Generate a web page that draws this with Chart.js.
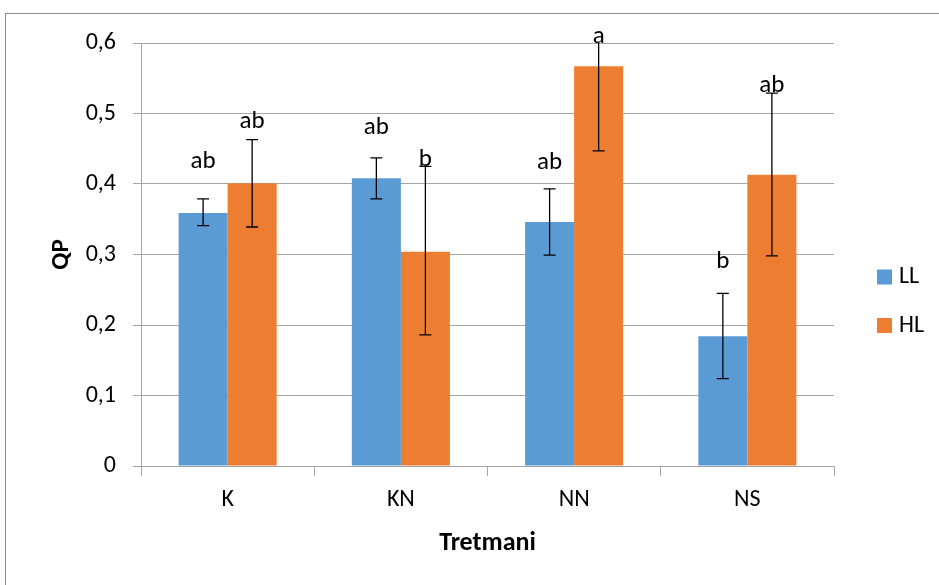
<!DOCTYPE html>
<html>
<head>
<meta charset="utf-8">
<script src="https://cdn.jsdelivr.net/npm/chart.js@4"></script>
<style>
  body { margin: 0; background: #fff; }
  #wrap { position: relative; width: 939px; height: 585px; overflow: hidden; }
  #frame { position: absolute; left: 5px; top: 13px; width: 1000px; height: 1000px;
           border: 1.5px solid #8c8c8c; pointer-events: none; }
</style>
</head>
<body>
<div id="wrap">
  <canvas id="c" width="939" height="585"></canvas>
  <div id="frame"></div>
</div>
<script>
const categories = ["K", "KN", "NN", "NS"];
const yTicks = [0, 0.1, 0.2, 0.3, 0.4, 0.5, 0.6];

const llValues = [0.359, 0.408, 0.346, 0.184];
const hlValues = [0.401, 0.304, 0.567, 0.413];

// error bar ends
const llLow = [0.341, 0.379, 0.299, 0.124];
const llHigh = [0.379, 0.437, 0.393, 0.245];
const hlLow = [0.339, 0.186, 0.447, 0.298];
const hlHigh = [0.463, 0.425, 0.687, 0.529];

// significance letters and the QP level they sit at
const llLetters = ["ab", "ab", "ab", "b"];
const hlLetters = ["ab", "b", "a", "ab"];
const llLetterAt = [0.432, 0.48, 0.43, 0.29];
const hlLetterAt = [0.488, 0.434, 0.609, 0.54];

const FONT = "Carlito, 'Open Sans', sans-serif";
const GRID = "#a6a6a6";

const errorBars = {
  id: "errorBars",
  afterDatasetsDraw(chart) {
    const { ctx, chartArea } = chart;
    const y = chart.scales.y;
    ctx.save();
    chart.data.datasets.forEach((ds, di) => {
      const meta = chart.getDatasetMeta(di);
      meta.data.forEach((bar, i) => {
        const x = bar.x;
        let top = y.getPixelForValue(ds.errHigh[i]);
        const bot = y.getPixelForValue(ds.errLow[i]);
        const clipped = top < chartArea.top;
        if (clipped) top = chartArea.top;
        ctx.strokeStyle = "#000";
        ctx.lineWidth = 1.3;
        ctx.beginPath();
        ctx.moveTo(x, top); ctx.lineTo(x, bot);
        if (!clipped) { ctx.moveTo(x - 6, top); ctx.lineTo(x + 6, top); }
        ctx.moveTo(x - 6, bot); ctx.lineTo(x + 6, bot);
        ctx.stroke();

        ctx.fillStyle = "#000";
        ctx.font = "25px " + FONT;
        ctx.textAlign = "center";
        ctx.textBaseline = "middle";
        ctx.fillText(ds.letters[i], x, y.getPixelForValue(ds.letterAt[i]));
      });
    });
    ctx.restore();
  }
};

const sideLegend = {
  id: "sideLegend",
  afterDraw(chart) {
    const { ctx } = chart;
    ctx.save();
    chart.data.datasets.forEach((ds, i) => {
      const cy = 277 + i * 48.5;
      ctx.fillStyle = ds.backgroundColor;
      ctx.fillRect(877, cy - 7.5, 15, 15);
      ctx.fillStyle = "#000";
      ctx.font = "24px " + FONT;
      ctx.textAlign = "left";
      ctx.textBaseline = "middle";
      ctx.fillText(ds.label, 899, cy);
    });
    ctx.restore();
  }
};

new Chart(document.getElementById("c"), {
  type: "bar",
  data: {
    labels: categories,
    datasets: [
      { label: "LL", data: llValues, backgroundColor: "#5b9bd5",
        errLow: llLow, errHigh: llHigh, letters: llLetters, letterAt: llLetterAt },
      { label: "HL", data: hlValues, backgroundColor: "#ed7d31",
        errLow: hlLow, errHigh: hlHigh, letters: hlLetters, letterAt: hlLetterAt }
    ]
  },
  options: {
    responsive: false,
    animation: false,
    categoryPercentage: 0.566,
    barPercentage: 1,
    layout: { padding: { left: 0, right: 105, top: 43, bottom: 0 } },
    plugins: { legend: { display: false }, tooltip: { enabled: false } },
    scales: {
      x: {
        afterFit: (s) => { s.height = 119; },
        grid: { display: true, drawOnChartArea: false, offset: true, tickLength: 10, color: GRID },
        border: { color: GRID },
        ticks: { color: "#000", padding: 10, font: { family: FONT, size: 24 } },
        title: { display: true, text: "Tretmani", color: "#000",
                 font: { family: FONT, size: 26, weight: "bold" }, padding: { top: 0, bottom: 26 } }
      },
      y: {
        min: 0, max: 0.6,
        afterFit: (s) => { s.width = 141; },
        afterBuildTicks: (s) => { s.ticks = yTicks.map(v => ({ value: v })); },
        grid: { color: GRID, tickLength: 8 },
        border: { color: GRID },
        ticks: { color: "#000", padding: 17, font: { family: FONT, size: 24 },
                 callback: (v) => String(v).replace(".", ",") },
        title: { display: true, text: "QP", color: "#000",
                 font: { family: FONT, size: 25, weight: "bold" }, padding: { top: 47, bottom: 0 } }
      }
    }
  },
  plugins: [errorBars, sideLegend]
});
</script>
</body>
</html>
